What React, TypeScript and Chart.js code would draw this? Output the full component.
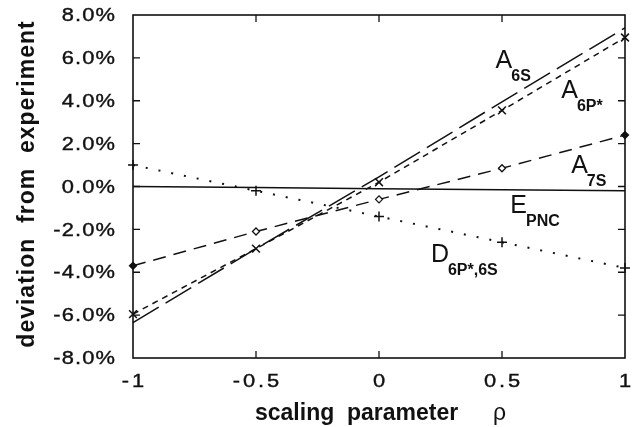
import React, { useEffect, useRef } from "react";
import { Chart, registerables } from "chart.js";

Chart.register(...registerables);

// ---- data ----
const rho = [-1, -0.5, 0, 0.5, 1];
const a6s = [-6.35, -2.9, 0.45, 3.95, 7.4];
const a6p = [-5.95, -2.9, 0.2, 3.55, 6.95];
const a7s = [-3.7, -2.1, -0.6, 0.85, 2.4];
const epnc = [0.0, -0.05, -0.1, -0.15, -0.2];
const d6p6s = [1.0, -0.2, -1.4, -2.6, -3.8];

const yTicks = [-8, -6, -4, -2, 0, 2, 4, 6, 8];
const xTicks = [-1, -0.5, 0, 0.5, 1];
const xTickLabels = ["-1", "-0.5", "0", "0.5", "1"];

const xTitle = "scaling  parameter";
const xTitleSymbol = "ρ";
const yTitle = "deviation  from  experiment";

// curve labels: main letter + subscript, anchored in data coordinates
const curveLabels = [
  { main: "A", sub: "6S", x: 0.474, y: 5.53 },
  { main: "A", sub: "6P*", x: 0.741, y: 4.13 },
  { main: "A", sub: "7S", x: 0.781, y: 0.63 },
  { main: "E", sub: "PNC", x: 0.534, y: -1.24 },
  { main: "D", sub: "6P*,6S", x: 0.211, y: -3.52 },
];

const FONT = "'Liberation Sans', Arial, Helvetica, sans-serif";
const INK = "#111";

const pts = (ys: number[]) => rho.map((x, i) => ({ x, y: ys[i] }));

function stretchedText(
  ctx: CanvasRenderingContext2D,
  text: string,
  x: number,
  y: number,
  align: "left" | "right" | "center",
  sx: number,
  spacing: number
) {
  ctx.save();
  (ctx as any).letterSpacing = spacing + "px";
  ctx.textAlign = "left";
  const w = (ctx.measureText(text).width - spacing) * sx;
  let left = x;
  if (align === "right") left = x - w;
  else if (align === "center") left = x - w / 2;
  ctx.translate(left, y);
  ctx.scale(sx, 1);
  ctx.fillText(text, 0, 0);
  ctx.lineWidth = 0.4;
  ctx.strokeText(text, 0, 0);
  ctx.restore();
}

const decorPlugin = {
  id: "decor",
  afterDatasetsDraw(chart: any) {
    const { ctx, chartArea: a, scales } = chart;
    const xs = scales.x;
    const ys = scales.y;
    ctx.save();
    ctx.strokeStyle = INK;
    ctx.lineWidth = 1.6;
    ctx.strokeRect(a.left, a.top, a.right - a.left, a.bottom - a.top);

    // inward ticks
    ctx.lineWidth = 1.3;
    const tl = 7;
    ctx.beginPath();
    yTicks.forEach((v) => {
      if (v === -8 || v === 8) return;
      const py = ys.getPixelForValue(v);
      ctx.moveTo(a.left, py);
      ctx.lineTo(a.left + tl, py);
      ctx.moveTo(a.right, py);
      ctx.lineTo(a.right - tl, py);
    });
    xTicks.forEach((v) => {
      if (v === -1 || v === 1) return;
      const px = xs.getPixelForValue(v);
      ctx.moveTo(px, a.top);
      ctx.lineTo(px, a.top + tl);
      ctx.moveTo(px, a.bottom);
      ctx.lineTo(px, a.bottom - tl);
    });
    ctx.stroke();

    ctx.fillStyle = INK;
    ctx.strokeStyle = INK;
    // y tick labels
    ctx.font = `19px ${FONT}`;
    ctx.textBaseline = "middle";
    yTicks.forEach((v) => {
      const py = ys.getPixelForValue(v);
      stretchedText(ctx, v.toFixed(1) + "%", a.left - 18, py + 1, "right", 1.15, 1);
    });

    // x tick labels
    ctx.textBaseline = "alphabetic";
    xTicks.forEach((v, i) => {
      const px = xs.getPixelForValue(v);
      stretchedText(ctx, xTickLabels[i], px, a.bottom + 29, "center", 1.15, 2.5);
    });

    // axis titles
    (ctx as any).letterSpacing = "0px";
    ctx.textAlign = "left";
    ctx.font = `bold 23px ${FONT}`;
    ctx.fillText(xTitle, 255, 420);
    ctx.font = `23px ${FONT}`;
    ctx.fillText(xTitleSymbol, 493, 420);

    ctx.save();
    ctx.translate(34, 184);
    ctx.rotate(-Math.PI / 2);
    ctx.font = `bold 23px ${FONT}`;
    (ctx as any).letterSpacing = "1px";
    ctx.textAlign = "center";
    ctx.fillText(yTitle, 0, 0);
    ctx.restore();

    // curve labels
    (ctx as any).letterSpacing = "0px";
    ctx.textAlign = "left";
    curveLabels.forEach((l) => {
      const px = xs.getPixelForValue(l.x);
      const py = ys.getPixelForValue(l.y);
      ctx.font = `25px ${FONT}`;
      ctx.fillText(l.main, px, py);
      const w = ctx.measureText(l.main).width;
      ctx.font = `bold 16px ${FONT}`;
      ctx.fillText(l.sub, px + w - 1, py + 13);
    });
    ctx.restore();
  },
};

export default function App() {
  const ref = useRef<HTMLCanvasElement | null>(null);
  useEffect(() => {
    document.body.style.margin = "0";
    const canvas = ref.current;
    if (!canvas) return;
    const chart = new Chart(canvas, {
      type: "line",
      data: {
        datasets: [
          {
            label: "A6S",
            data: pts(a6s),
            borderColor: INK,
            borderWidth: 1.5,
            borderDash: [30, 8],
            pointRadius: 0,
            fill: false,
          },
          {
            label: "A6P*",
            data: pts(a6p),
            borderColor: INK,
            borderWidth: 1.5,
            borderDash: [6, 5],
            pointStyle: "crossRot",
            pointRadius: 5.5,
            pointBorderWidth: 1.5,
            pointBorderColor: INK,
            fill: false,
          },
          {
            label: "A7S",
            data: pts(a7s),
            borderColor: INK,
            borderWidth: 1.5,
            borderDash: [13, 8],
            pointStyle: "rectRot",
            pointRadius: 3.5,
            pointBorderWidth: 1.3,
            pointBorderColor: INK,
            pointBackgroundColor: [INK, "#fff", "#fff", "#fff", INK],
            fill: false,
          },
          {
            label: "EPNC",
            data: pts(epnc),
            borderColor: INK,
            borderWidth: 1.5,
            pointRadius: 0,
            fill: false,
          },
          {
            label: "D6P*,6S",
            data: pts(d6p6s),
            borderColor: INK,
            borderWidth: 2,
            borderDash: [2, 11],
            pointStyle: "cross",
            pointRadius: 5,
            pointBorderWidth: 1.5,
            pointBorderColor: INK,
            fill: false,
          },
        ],
      },
      options: {
        animation: false,
        responsive: false,
        devicePixelRatio: 1,
        layout: { padding: { left: 133, right: 5, top: 15, bottom: 69 } },
        plugins: { legend: { display: false }, tooltip: { enabled: false } },
        elements: { line: { tension: 0 } },
        datasets: { line: { clip: false } as any },
        scales: {
          x: { type: "linear", min: -1, max: 1, display: false },
          y: { type: "linear", min: -8, max: 8, display: false },
        },
      },
      plugins: [decorPlugin],
    });
    return () => chart.destroy();
  }, []);
  return (
    <div style={{ width: 632, height: 427 }}>
      <canvas ref={ref} width={632} height={427} style={{ display: "block" }} />
    </div>
  );
}
